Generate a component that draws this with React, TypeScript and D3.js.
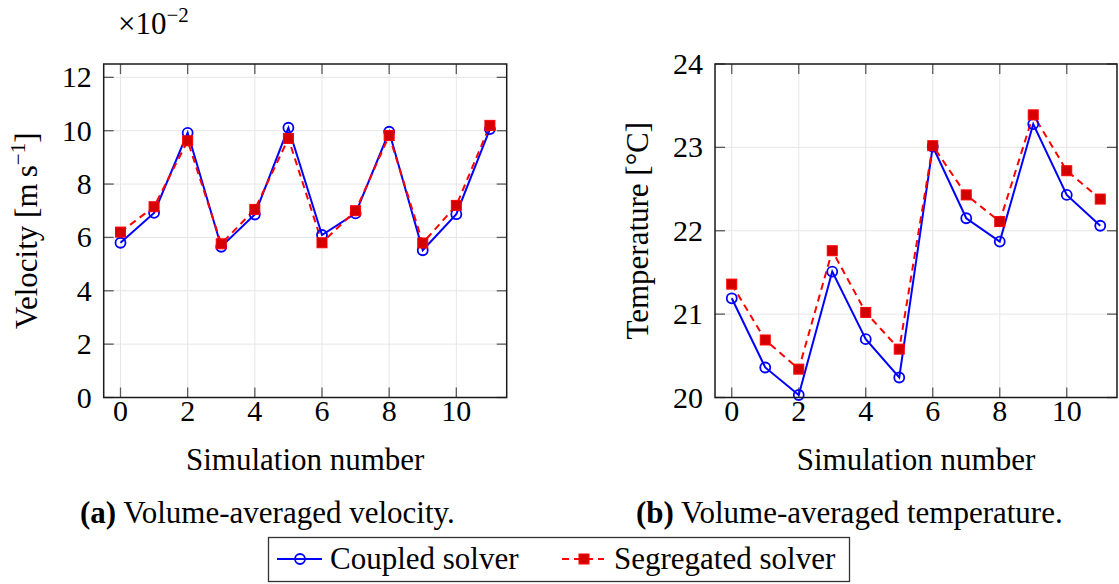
import { useEffect, useRef } from "react";
import * as d3 from "d3";

const sims = [0, 1, 2, 3, 4, 5, 6, 7, 8, 9, 10, 11];
const velCoupled = [5.8, 6.92, 9.92, 5.65, 6.86, 10.11, 6.09, 6.9, 9.96, 5.52, 6.87, 10.06];
const velSegregated = [6.2, 7.15, 9.62, 5.76, 7.05, 9.71, 5.8, 7.0, 9.82, 5.79, 7.2, 10.2];
const tempCoupled = [21.19, 20.36, 20.03, 21.51, 20.7, 20.24, 23.01, 22.15, 21.87, 23.28, 22.43, 22.06];
const tempSegregated = [21.36, 20.69, 20.34, 21.76, 21.02, 20.58, 23.02, 22.43, 22.11, 23.39, 22.72, 22.38];
const xTicks = [0, 2, 4, 6, 8, 10];
const velTicks = [0, 2, 4, 6, 8, 10, 12];
const tempTicks = [20, 21, 22, 23, 24];

const FONT = "Liberation Serif, DejaVu Serif, serif";
const FS = 31;
const FS_TICK = 30;
const BLUE = "#0000ff";
const RED = "#ff0000";

type Panel = {
  left: number;
  right: number;
  yDomain: [number, number];
  yTicks: number[];
  coupled: number[];
  segregated: number[];
  ylabel: string;
  caption: string;
  tag: string;
  captionX: number;
};

export default function App() {
  const ref = useRef<SVGSVGElement>(null);

  useEffect(() => {
    const svg = d3.select(ref.current);
    svg.selectAll("*").remove();
    const top = 64;
    const bottom = 397.5;

    const panels: Panel[] = [
      {
        left: 103.7, right: 506.7, yDomain: [0, 12.5], yTicks: velTicks,
        coupled: velCoupled, segregated: velSegregated,
        ylabel: "Velocity", caption: "Volume-averaged velocity.", tag: "(a)", captionX: 80,
      },
      {
        left: 715, right: 1117, yDomain: [20, 24], yTicks: tempTicks,
        coupled: tempCoupled, segregated: tempSegregated,
        ylabel: "Temperature [°C]", caption: "Volume-averaged temperature.", tag: "(b)", captionX: 636,
      },
    ];

    panels.forEach((p, pi) => {
      const x = d3.scaleLinear().domain([-0.5, 11.5]).range([p.left, p.right]);
      const y = d3.scaleLinear().domain(p.yDomain).range([bottom, top]);
      const g = svg.append("g");

      // grid
      g.selectAll(".gx").data(xTicks).enter().append("line")
        .attr("x1", (d) => x(d)).attr("x2", (d) => x(d))
        .attr("y1", top).attr("y2", bottom)
        .attr("stroke", "#e6e6e6").attr("stroke-width", 1);
      g.selectAll(".gy").data(p.yTicks).enter().append("line")
        .attr("x1", p.left).attr("x2", p.right)
        .attr("y1", (d) => y(d)).attr("y2", (d) => y(d))
        .attr("stroke", "#e6e6e6").attr("stroke-width", 1);

      // inner ticks
      const tl = 10;
      xTicks.forEach((t) => {
        g.append("line").attr("x1", x(t)).attr("x2", x(t)).attr("y1", bottom).attr("y2", bottom - tl)
          .attr("stroke", "#5a5a5a").attr("stroke-width", 1.3);
        g.append("line").attr("x1", x(t)).attr("x2", x(t)).attr("y1", top).attr("y2", top + tl)
          .attr("stroke", "#5a5a5a").attr("stroke-width", 1.3);
      });
      p.yTicks.forEach((t) => {
        g.append("line").attr("x1", p.left).attr("x2", p.left + tl).attr("y1", y(t)).attr("y2", y(t))
          .attr("stroke", "#5a5a5a").attr("stroke-width", 1.3);
        g.append("line").attr("x1", p.right).attr("x2", p.right - tl).attr("y1", y(t)).attr("y2", y(t))
          .attr("stroke", "#5a5a5a").attr("stroke-width", 1.3);
      });

      // tick labels
      g.selectAll(".xl").data(xTicks).enter().append("text")
        .attr("x", (d) => x(d)).attr("y", 421)
        .attr("text-anchor", "middle").attr("font-family", FONT).attr("font-size", FS_TICK)
        .text((d) => d);
      g.selectAll(".yl").data(p.yTicks).enter().append("text")
        .attr("x", p.left - 12).attr("y", (d) => y(d) + 10)
        .attr("text-anchor", "end").attr("font-family", FONT).attr("font-size", FS_TICK)
        .text((d) => d);

      // axis labels
      g.append("text").attr("x", (p.left + p.right) / 2).attr("y", 470)
        .attr("text-anchor", "middle").attr("font-family", FONT).attr("font-size", FS)
        .text("Simulation number");
      const yl = g.append("text")
        .attr("transform", `translate(${p.left - 67},${(top + bottom) / 2}) rotate(-90)`)
        .attr("text-anchor", "middle").attr("font-family", FONT).attr("font-size", FS);
      if (pi === 0) {
        yl.append("tspan").text("Velocity [m\u2009s");
        yl.append("tspan").attr("dy", -12).attr("font-size", 21).text("\u22121");
        yl.append("tspan").attr("dy", 12).text("]");
      } else {
        yl.text(p.ylabel);
      }

      // caption
      const cap = g.append("text").attr("x", p.captionX).attr("y", 523)
        .attr("font-family", FONT).attr("font-size", FS);
      cap.append("tspan").attr("font-weight", "bold").text(p.tag);
      cap.append("tspan").text(" " + p.caption);

      // series
      const line = d3.line<number>().x((_, i) => x(sims[i])).y((d) => y(d));
      g.append("path").datum(p.coupled).attr("d", line)
        .attr("fill", "none").attr("stroke", BLUE).attr("stroke-width", 2);
      g.append("path").datum(p.segregated).attr("d", line)
        .attr("fill", "none").attr("stroke", RED).attr("stroke-width", 2).attr("stroke-dasharray", "7,5");
      g.selectAll(".mc").data(p.coupled).enter().append("circle")
        .attr("cx", (_, i) => x(sims[i])).attr("cy", (d) => y(d)).attr("r", 5)
        .attr("fill", "none").attr("stroke", BLUE).attr("stroke-width", 1.8);
      g.selectAll(".ms").data(p.segregated).enter().append("rect")
        .attr("x", (_, i) => x(sims[i]) - 5).attr("y", (d) => y(d) - 5)
        .attr("width", 10).attr("height", 10)
        .attr("fill", "#d40000").attr("stroke", RED).attr("stroke-width", 1);

      // frame
      g.append("rect").attr("x", p.left).attr("y", top)
        .attr("width", p.right - p.left).attr("height", bottom - top)
        .attr("fill", "none").attr("stroke", "#1a1a1a").attr("stroke-width", 1.5);
    });

    // scale factor
    const sf = svg.append("text").attr("x", 118).attr("y", 34)
      .attr("font-family", FONT).attr("font-size", FS);
    sf.append("tspan").text("\u00d710");
    sf.append("tspan").attr("dy", -12).attr("font-size", 21).text("\u22122");

    // legend
    const lg = svg.append("g");
    lg.append("rect").attr("x", 268.5).attr("y", 537.5).attr("width", 581).attr("height", 44)
      .attr("fill", "white").attr("stroke", "#333").attr("stroke-width", 1.3);
    lg.append("line").attr("x1", 277).attr("x2", 322).attr("y1", 559).attr("y2", 559)
      .attr("stroke", BLUE).attr("stroke-width", 2);
    lg.append("circle").attr("cx", 300).attr("cy", 559).attr("r", 5)
      .attr("fill", "none").attr("stroke", BLUE).attr("stroke-width", 1.8);
    lg.append("text").attr("x", 330).attr("y", 569).attr("font-family", FONT).attr("font-size", FS)
      .text("Coupled solver");
    lg.append("line").attr("x1", 562).attr("x2", 604).attr("y1", 559).attr("y2", 559)
      .attr("stroke", RED).attr("stroke-width", 2).attr("stroke-dasharray", "7,5");
    lg.append("rect").attr("x", 579).attr("y", 554).attr("width", 10).attr("height", 10)
      .attr("fill", "#d40000").attr("stroke", RED).attr("stroke-width", 1);
    lg.append("text").attr("x", 614).attr("y", 569).attr("font-family", FONT).attr("font-size", FS)
      .text("Segregated solver");
  }, []);

  return (
    <svg
      ref={ref}
      width={1119}
      height={584}
      style={{ position: "absolute", left: 0, top: 0, background: "white" }}
    />
  );
}
